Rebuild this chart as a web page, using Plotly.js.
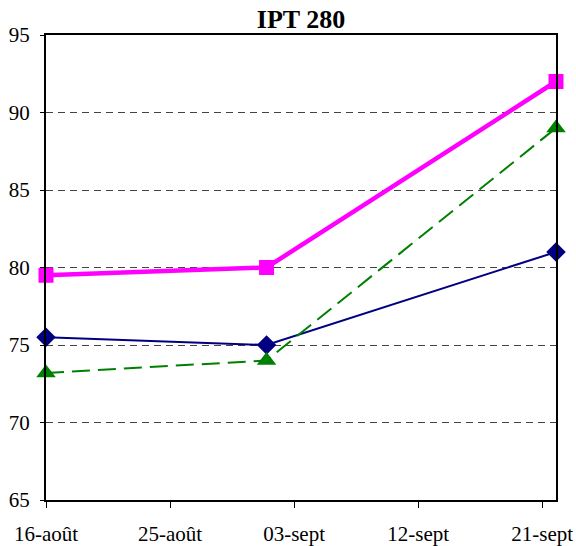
<!DOCTYPE html>
<html><head><meta charset="utf-8">
<script src="https://cdn.plot.ly/plotly-3.0.1.min.js"></script>
<style>body{margin:0;background:#fff}#c{width:576px;height:546px}</style>
</head><body><div id="c"></div>
<script>
const dates = ["2003-08-16", "2003-09-01", "2003-09-22"];
const seriesMagenta = [79.5, 80.0, 92.0];
const seriesBlue = [75.5, 75.0, 81.0];
const seriesGreen = [73.2, 74.0, 89.0];
const tickDates = ["2003-08-16", "2003-08-25", "2003-09-03", "2003-09-12", "2003-09-21"];
const tickLabels = ["16-août", "25-août", "03-sept", "12-sept", "21-sept"];

const traces = [
  {x: dates, y: seriesBlue, mode: "lines+markers", line: {color: "#000080", width: 2},
   marker: {symbol: "diamond", size: 15, color: "#000080"}, cliponaxis: false},
  {x: dates, y: seriesGreen, mode: "lines+markers", line: {color: "#008000", width: 2, dash: "18px,8px"},
   marker: {symbol: "triangle-up", size: 17, color: "#008000"}, cliponaxis: false},
  {x: dates, y: seriesMagenta, mode: "lines+markers", line: {color: "#FF00FF", width: 4.5},
   marker: {symbol: "square", size: 15, color: "#FF00FF"}, cliponaxis: false}
];
const layout = {
  width: 576, height: 546,
  margin: {l: 46, r: 20, t: 35, b: 46},
  paper_bgcolor: "#fff", plot_bgcolor: "#fff",
  showlegend: false,
  font: {family: "Liberation Serif, Times New Roman, serif", size: 21, color: "#000"},
  title: {text: "<b>IPT 280</b>", x: 0.5, xref: "paper", xanchor: "center", y: 0.966, yanchor: "middle",
          font: {family: "Liberation Serif, serif", size: 26, color: "#000"}},
  xaxis: {type: "date", range: ["2003-08-16", "2003-09-22"], tickvals: tickDates, ticktext: tickLabels,
          showgrid: false, zeroline: false, showline: true, mirror: true, linecolor: "#000", linewidth: 2,
          ticks: "outside", ticklen: 6, tickcolor: "#000", tickwidth: 1, tickfont: {size: 21},
          ticklabelstandoff: 8},
  yaxis: {range: [65, 95], dtick: 5, tick0: 65, showgrid: true, gridcolor: "#444", griddash: "7px,5px", gridwidth: 1,
          zeroline: false, showline: true, mirror: true, linecolor: "#000", linewidth: 2,
          ticks: "outside", ticklen: 4, tickcolor: "#000", tickfont: {size: 21}, ticklabelstandoff: 6}
};
Plotly.newPlot("c", traces, layout, {staticPlot: true, displayModeBar: false});
</script></body></html>
